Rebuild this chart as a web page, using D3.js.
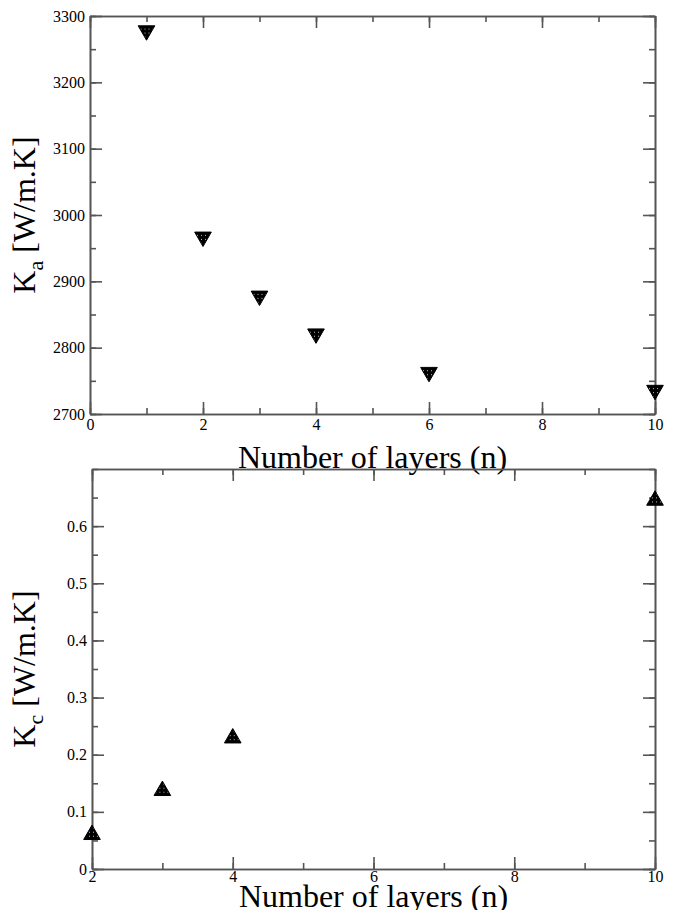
<!DOCTYPE html>
<html>
<head>
<meta charset="utf-8">
<script src="https://cdn.jsdelivr.net/npm/d3@7"></script>
<style>
  body { margin: 0; background: #fff; }
  svg { display: block; font-family: "Liberation Serif", "DejaVu Serif", serif; }
  .axis path, .axis line { stroke: #555; stroke-width: 1.6; }
  .axis text { fill: #000; font-size: 16px; font-family: "Liberation Serif", serif; }
</style>
</head>
<body>
<svg id="chart" width="678" height="910"></svg>
<script>
// top panel: K_a vs number of layers
var layersA = [1, 2, 3, 4, 6, 10];
var kA = [3278, 2967, 2878, 2821, 2763, 2736];
var xTicksA = [0, 2, 4, 6, 8, 10];
var yTicksA = [2700, 2800, 2900, 3000, 3100, 3200, 3300];

// bottom panel: K_c vs number of layers
var layersC = [2, 3, 4, 10];
var kC = [0.06, 0.137, 0.229, 0.645];
var xTicksC = [2, 4, 6, 8, 10];
var yTicksC = [0, 0.1, 0.2, 0.3, 0.4, 0.5, 0.6];

var svg = d3.select("#chart");

// dotted black fill used by the grace-style markers
var defs = svg.append("defs");
var pat = defs.append("pattern")
    .attr("id", "dots")
    .attr("patternUnits", "userSpaceOnUse")
    .attr("width", 4).attr("height", 4);
pat.append("rect").attr("width", 4).attr("height", 4).attr("fill", "#000");
pat.append("rect").attr("x", 1).attr("y", 1).attr("width", 1).attr("height", 1).attr("fill", "#bbb");

function drawPanel(opt) {
    var x = d3.scaleLinear().domain(opt.xDomain).range([opt.left, opt.right]);
    var y = d3.scaleLinear().domain(opt.yDomain).range([opt.bottom, opt.top]);
    var g = svg.append("g");

    // minor ticks (all four sides, pointing inward)
    var minorX = d3.range(opt.xDomain[0], opt.xDomain[1] + 0.001, opt.xMinor);
    var minorY = d3.range(opt.yDomain[0], opt.yDomain[1] + opt.yMinor / 10, opt.yMinor);

    g.append("g").attr("class", "axis").attr("transform", "translate(0," + opt.bottom + ")")
        .call(d3.axisBottom(x).tickValues(minorX).tickSize(-6).tickSizeOuter(0).tickFormat(""));
    g.append("g").attr("class", "axis").attr("transform", "translate(0," + opt.top + ")")
        .call(d3.axisTop(x).tickValues(minorX).tickSize(-6).tickSizeOuter(0).tickFormat(""));
    g.append("g").attr("class", "axis").attr("transform", "translate(" + opt.left + ",0)")
        .call(d3.axisLeft(y).tickValues(minorY).tickSize(-6).tickSizeOuter(0).tickFormat(""));
    g.append("g").attr("class", "axis").attr("transform", "translate(" + opt.right + ",0)")
        .call(d3.axisRight(y).tickValues(minorY).tickSize(-6).tickSizeOuter(0).tickFormat(""));

    // major ticks
    g.append("g").attr("class", "axis").attr("transform", "translate(0," + opt.bottom + ")")
        .call(d3.axisBottom(x).tickValues(opt.xTicks).tickSize(-12).tickSizeOuter(0).tickPadding(opt.xPad)
            .tickFormat(d3.format("d")));
    g.append("g").attr("class", "axis").attr("transform", "translate(0," + opt.top + ")")
        .call(d3.axisTop(x).tickValues(opt.xTicks).tickSize(-12).tickSizeOuter(0).tickFormat(""));
    g.append("g").attr("class", "axis").attr("transform", "translate(" + opt.left + ",0)")
        .call(d3.axisLeft(y).tickValues(opt.yTicks).tickSize(-12).tickSizeOuter(0).tickPadding(5)
            .tickFormat(opt.yFormat));
    g.append("g").attr("class", "axis").attr("transform", "translate(" + opt.right + ",0)")
        .call(d3.axisRight(y).tickValues(opt.yTicks).tickSize(-12).tickSizeOuter(0).tickFormat(""));

    // x title
    g.append("text")
        .attr("x", (opt.left + opt.right) / 2)
        .attr("y", opt.xTitleY)
        .attr("text-anchor", "middle")
        .attr("font-size", 32)
        .text("Number of layers (n)");

    // y title, rotated
    var yt = g.append("text")
        .attr("transform", "translate(35," + (opt.top + opt.bottom) / 2 + ") rotate(-90)")
        .attr("text-anchor", "middle")
        .attr("font-size", 32);
    yt.append("tspan").text("K");
    yt.append("tspan").attr("font-size", 22).attr("dy", 8).text(opt.sub);
    yt.append("tspan").attr("dy", -8).text(" [W/m.K]");

    // markers
    var sym = d3.symbol().type(d3.symbolTriangle).size(120);
    g.selectAll("path.mark")
        .data(opt.xs.map(function(d, i) { return [d, opt.ys[i]]; }))
        .enter().append("path")
        .attr("class", "mark")
        .attr("d", sym)
        .attr("transform", function(d) {
            return "translate(" + x(d[0]) + "," + y(d[1]) + ")" + (opt.down ? " rotate(180)" : "");
        })
        .attr("fill", "url(#dots)")
        .attr("stroke", "#000")
        .attr("stroke-width", 1);
}

drawPanel({
    left: 90, right: 655, top: 16, bottom: 414,
    xDomain: [0, 10], yDomain: [2700, 3300],
    xMinor: 1, yMinor: 50,
    xTicks: xTicksA, yTicks: yTicksA, xPad: 5,
    yFormat: d3.format("d"),
    xTitleY: 468, sub: "a",
    xs: layersA, ys: kA, down: true
});

drawPanel({
    left: 92, right: 655, top: 469, bottom: 869,
    xDomain: [2, 10], yDomain: [0, 0.7],
    xMinor: 1, yMinor: 0.05,
    xTicks: xTicksC, yTicks: yTicksC, xPad: 2,
    yFormat: function(d) { return String(+d.toFixed(2)); },
    xTitleY: 907, sub: "c",
    xs: layersC, ys: kC, down: false
});
</script>
</body>
</html>
